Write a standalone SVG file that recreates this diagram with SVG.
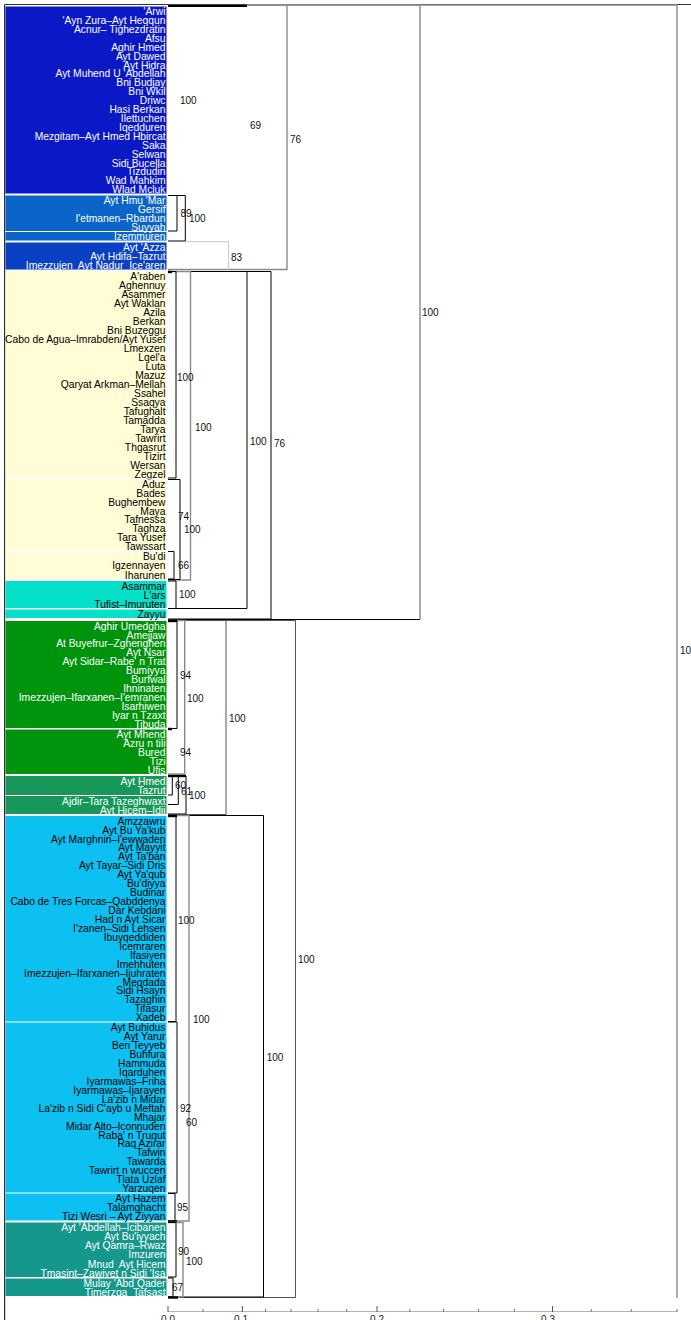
<svg xmlns="http://www.w3.org/2000/svg" width="691" height="1320" viewBox="0 0 691 1320">
<style>
text{font-family:"Liberation Sans",Arial,sans-serif}
.w{font-size:10.3px;fill:#fff;text-anchor:end;white-space:pre}
.b{font-size:10.3px;fill:#000;text-anchor:end;white-space:pre}
.n{font-size:10px;fill:#111}
.ax{font-size:10px;fill:#222;text-anchor:middle}
.k{fill:none;stroke:#000;stroke-width:1}
.g{fill:none;stroke:#8a8a8a;stroke-width:1.4}
.lg{fill:none;stroke:#cfcfcf;stroke-width:1.2}
.dk{fill:none;stroke:#555;stroke-width:1}
.thick{stroke:#000;stroke-width:2.4}
</style>
<rect width="691" height="1320" fill="#fff"/>
<!-- frame -->
<line x1="4.7" y1="4.5" x2="4.7" y2="1320" stroke="#000" stroke-width="1"/>
<line x1="4.7" y1="4.5" x2="691" y2="4.5" stroke="#333" stroke-width="1"/>

<g id="blue1">
<rect x="5.5" y="6.5" width="161" height="187" fill="#0b18c6"/>
<text class="w" x="165.5" y="15.15">'Arwi</text>
<text class="w" x="165.5" y="24.06">'Ayn Zura–Ayt Heqqun</text>
<text class="w" x="165.5" y="32.96">Acnur– Tighezdratin</text>
<text class="w" x="165.5" y="41.87">Afsu</text>
<text class="w" x="165.5" y="50.77">Aghir Hmed</text>
<text class="w" x="165.5" y="59.68">Ayt Dawed</text>
<text class="w" x="165.5" y="68.58">Ayt Hidra</text>
<text class="w" x="165.5" y="77.49">Ayt Muhend U 'Abdellah</text>
<text class="w" x="165.5" y="86.39">Bni Budjay</text>
<text class="w" x="165.5" y="95.3">Bni Wkil</text>
<text class="w" x="165.5" y="104.2">Driwc</text>
<text class="w" x="165.5" y="113.11">Hasi Berkan</text>
<text class="w" x="165.5" y="122.01">Ilettuchen</text>
<text class="w" x="165.5" y="130.92">Iqedduren</text>
<text class="w" x="165.5" y="139.82">Mezgitam–Ayt Hmed Hbircat</text>
<text class="w" x="165.5" y="148.73">Saka</text>
<text class="w" x="165.5" y="157.63">Selwan</text>
<text class="w" x="165.5" y="166.54">Sidi Bucella</text>
<text class="w" x="165.5" y="175.44">Tizdudin</text>
<text class="w" x="165.5" y="184.35">Wad Mahkim</text>
<text class="w" x="165.5" y="193.25">Wlad Mcluk</text>
</g>
<g id="blue2">
<rect x="5.5" y="195.5" width="161" height="35.5" fill="#0b64c8"/>
<rect x="5.5" y="232" width="161" height="8.5" fill="#0b64c8"/>
<text class="w" x="165.5" y="204.14">Ayt Hmu 'Mar</text>
<text class="w" x="165.5" y="213.01">Gersif</text>
<text class="w" x="165.5" y="221.89">I'etmanen–Rbardun</text>
<text class="w" x="165.5" y="230.76">Suyyah</text>
<text class="w" x="165.5" y="240.45">Izemmuren</text>
</g>
<g id="blue3">
<rect x="5.5" y="242.5" width="161" height="27" fill="#0a40c4"/>
<text class="w" x="165.5" y="251.2">Ayt 'Azza</text>
<text class="w" x="165.5" y="260.2">Ayt Hdifa–Tazrut</text>
<text class="w" x="165.5" y="269.2">Imezzujen  Ayt Nadur  Ice'aren</text>
</g>
<g id="yellow1">
<rect x="5.5" y="271.5" width="161" height="206.5" fill="#fffcd6"/>
<text class="b" x="165.5" y="280.19">A'raben</text>
<text class="b" x="165.5" y="289.17">Aghennuy</text>
<text class="b" x="165.5" y="298.15">Asammer</text>
<text class="b" x="165.5" y="307.12">Ayt Waklan</text>
<text class="b" x="165.5" y="316.1">Azila</text>
<text class="b" x="165.5" y="325.08">Berkan</text>
<text class="b" x="165.5" y="334.06">Bni Buzeggu</text>
<text class="b" x="165.5" y="343.04">Cabo de Agua–Imrabden/Ayt Yusef</text>
<text class="b" x="165.5" y="352.01">Lmexzen</text>
<text class="b" x="165.5" y="360.99">Lqel'a</text>
<text class="b" x="165.5" y="369.97">Luta</text>
<text class="b" x="165.5" y="378.95">Mazuz</text>
<text class="b" x="165.5" y="387.93">Qaryat Arkman–Mellah</text>
<text class="b" x="165.5" y="396.9">Ssahel</text>
<text class="b" x="165.5" y="405.88">Ssaqya</text>
<text class="b" x="165.5" y="414.86">Tafughalt</text>
<text class="b" x="165.5" y="423.84">Tamadda</text>
<text class="b" x="165.5" y="432.82">Tarya</text>
<text class="b" x="165.5" y="441.79">Tawrirt</text>
<text class="b" x="165.5" y="450.77">Thgasrut</text>
<text class="b" x="165.5" y="459.75">Tizirt</text>
<text class="b" x="165.5" y="468.73">Wersan</text>
<text class="b" x="165.5" y="477.71">Zegzel</text>
</g>
<g id="yellow2">
<rect x="5.5" y="479.5" width="161" height="70.5" fill="#fffcd6"/>
<text class="b" x="165.5" y="488.11">Aduz</text>
<text class="b" x="165.5" y="496.92">Bades</text>
<text class="b" x="165.5" y="505.73">Bughembew</text>
<text class="b" x="165.5" y="514.54">Maya</text>
<text class="b" x="165.5" y="523.36">Tafnessa</text>
<text class="b" x="165.5" y="532.17">Taghza</text>
<text class="b" x="165.5" y="540.98">Tara Yusef</text>
<text class="b" x="165.5" y="549.79">Tawssart</text>
</g>
<g id="yellow3">
<rect x="5.5" y="551.5" width="161" height="27.5" fill="#fffcd6"/>
<text class="b" x="165.5" y="560.28">Bu'di</text>
<text class="b" x="165.5" y="569.45">Igzennayen</text>
<text class="b" x="165.5" y="578.62">Iharunen</text>
</g>
<g id="cyan1">
<rect x="5.5" y="581" width="161" height="27" fill="#05e0c8"/>
<text class="b" x="165.5" y="589.7">Asammar</text>
<text class="b" x="165.5" y="598.7">L'ars</text>
<text class="b" x="165.5" y="607.7">Tufist–Imuruten</text>
</g>
<g id="cyan2">
<rect x="5.5" y="609.5" width="161" height="8.5" fill="#05e0c8"/>
<text class="b" x="165.5" y="617.95">Zayyu</text>
</g>
<g id="green1">
<rect x="5.5" y="621" width="161" height="107" fill="#00930c"/>
<text class="w" x="165.5" y="629.66">Aghir Umedgha</text>
<text class="w" x="165.5" y="638.57">Amejjaw</text>
<text class="w" x="165.5" y="647.49">At Buyefrur–Zghenghen</text>
<text class="w" x="165.5" y="656.41">Ayt Nsar</text>
<text class="w" x="165.5" y="665.32">Ayt Sidar–Rabe' n Trat</text>
<text class="w" x="165.5" y="674.24">Bumiyya</text>
<text class="w" x="165.5" y="683.16">Burfwal</text>
<text class="w" x="165.5" y="692.07">Ihninaten</text>
<text class="w" x="165.5" y="700.99">Imezzujen–Ifarxanen–I'emranen</text>
<text class="w" x="165.5" y="709.91">Isarhiwen</text>
<text class="w" x="165.5" y="718.82">Iyar n Tzaxt</text>
<text class="w" x="165.5" y="727.74">Tibuda</text>
</g>
<g id="green2">
<rect x="5.5" y="729.5" width="161" height="44.5" fill="#00930c"/>
<text class="w" x="165.5" y="738.15">Ayt Mhend</text>
<text class="w" x="165.5" y="747.05">Azru n tili</text>
<text class="w" x="165.5" y="755.95">Bured</text>
<text class="w" x="165.5" y="764.85">Tizi</text>
<text class="w" x="165.5" y="773.75">Ufis</text>
</g>
<g id="tealgreen">
<rect x="5.5" y="776" width="161" height="19" fill="#17985a"/>
<rect x="5.5" y="796" width="161" height="18" fill="#17985a"/>
<text class="w" x="165.5" y="784.95">Ayt Hmed</text>
<text class="w" x="165.5" y="794.45">Tazrut</text>
<text class="w" x="165.5" y="805.2">Ajdir–Tara Tazeghwaxt</text>
<text class="w" x="165.5" y="814.2">Ayt Hicem–Idij</text>
</g>
<g id="lightblue1">
<rect x="5.5" y="816" width="161" height="205.5" fill="#0cc0f2"/>
<text class="b" x="165.5" y="824.67">Amzzawru</text>
<text class="b" x="165.5" y="833.6">Ayt Bu Ya'kub</text>
<text class="b" x="165.5" y="842.54">Ayt Marghnin–I'ewwaden</text>
<text class="b" x="165.5" y="851.47">Ayt Mayyit</text>
<text class="b" x="165.5" y="860.41">Ayt Ta'ban</text>
<text class="b" x="165.5" y="869.34">Ayt Tayar–Sidi Dris</text>
<text class="b" x="165.5" y="878.28">Ayt Ya'qub</text>
<text class="b" x="165.5" y="887.21">Bu'diyya</text>
<text class="b" x="165.5" y="896.15">Budinar</text>
<text class="b" x="165.5" y="905.08">Cabo de Tres Forcas–Qabddenya</text>
<text class="b" x="165.5" y="914.02">Dar Kebdani</text>
<text class="b" x="165.5" y="922.95">Had n Ayt Sicar</text>
<text class="b" x="165.5" y="931.89">I'zanen–Sidi Lehsen</text>
<text class="b" x="165.5" y="940.82">Ibuyqeddiden</text>
<text class="b" x="165.5" y="949.76">Icemraren</text>
<text class="b" x="165.5" y="958.69">Ifasiyen</text>
<text class="b" x="165.5" y="967.63">Imehhuten</text>
<text class="b" x="165.5" y="976.56">Imezzujen–Ifarxanen–Ijuhraten</text>
<text class="b" x="165.5" y="985.5">Meqdada</text>
<text class="b" x="165.5" y="994.43">Sidi Hsayn</text>
<text class="b" x="165.5" y="1003.37">Tazaghin</text>
<text class="b" x="165.5" y="1012.3">Tifasur</text>
<text class="b" x="165.5" y="1021.24">Xadeb</text>
</g>
<g id="lightblue2">
<rect x="5.5" y="1022.5" width="161" height="170" fill="#0cc0f2"/>
<text class="b" x="165.5" y="1031.17">Ayt Buhidus</text>
<text class="b" x="165.5" y="1040.12">Ayt Yarur</text>
<text class="b" x="165.5" y="1049.07">Ben Teyyeb</text>
<text class="b" x="165.5" y="1058.02">Buhfura</text>
<text class="b" x="165.5" y="1066.96">Hammuda</text>
<text class="b" x="165.5" y="1075.91">Iqarduhen</text>
<text class="b" x="165.5" y="1084.86">Iyarmawas–Friha</text>
<text class="b" x="165.5" y="1093.8">Iyarmawas–Ijarayen</text>
<text class="b" x="165.5" y="1102.75">La'zib n Midar</text>
<text class="b" x="165.5" y="1111.7">La'zib n Sidi C'ayb u Meftah</text>
<text class="b" x="165.5" y="1120.64">Mhajar</text>
<text class="b" x="165.5" y="1129.59">Midar Alto–Iconnuden</text>
<text class="b" x="165.5" y="1138.54">Raba' n Truqut</text>
<text class="b" x="165.5" y="1147.48">Raq Azirar</text>
<text class="b" x="165.5" y="1156.43">Tafwin</text>
<text class="b" x="165.5" y="1165.38">Tawarda</text>
<text class="b" x="165.5" y="1174.32">Tawrirt n wuccen</text>
<text class="b" x="165.5" y="1183.27">Tlata Uzlaf</text>
<text class="b" x="165.5" y="1192.22">Yarzuqen</text>
</g>
<g id="lightblue3">
<rect x="5.5" y="1193.5" width="161" height="27" fill="#0cc0f2"/>
<text class="b" x="165.5" y="1202.2">Ayt Hazem</text>
<text class="b" x="165.5" y="1211.2">Talamghacht</text>
<text class="b" x="165.5" y="1220.2">Tizi Wesri – Ayt Ziyyan</text>
</g>
<g id="teal1">
<rect x="5.5" y="1222.5" width="161" height="54.5" fill="#16978b"/>
<text class="w" x="165.5" y="1231.24">Ayt 'Abdellah–Icibanen</text>
<text class="w" x="165.5" y="1240.33">Ayt Bu'iyyach</text>
<text class="w" x="165.5" y="1249.41">Ayt Qamra–Rwaz</text>
<text class="w" x="165.5" y="1258.49">Imzuren</text>
<text class="w" x="165.5" y="1267.58">Mnud  Ayt Hicem</text>
<text class="w" x="165.5" y="1276.66">Tmasint–Zawiyet n Sidi 'Isa</text>
</g>
<g id="teal2">
<rect x="5.5" y="1278.5" width="161" height="17.5" fill="#16978b"/>
<text class="w" x="165.5" y="1287.08">Mulay 'Abd Qader</text>
<text class="w" x="165.5" y="1295.83">Timerzga  Tafsast</text>
</g>

<g id="connectors">
<!-- upper half -->
<path class="g" d="M168,5 H677 V1298"/>
<path class="g" d="M168,5 H420 V619"/>
<path class="k" d="M168,619.5 H420"/>
<path class="g" d="M168,5 H287 V269.5 H168"/>
<line class="thick" x1="168" y1="5.8" x2="247" y2="5.8"/>
<path class="k" d="M168,195.5 H177 V231 H168"/>
<path class="k" d="M168,195.5 H185.3 V241 H168"/>
<path class="lg" d="M185.3,241.7 H228.5 V269.5"/>
<!-- yellow / cyan -->
<path class="k" d="M168,271.5 H271 V619 H168"/>
<path class="k" d="M168,271.5 H247 V608.5 H168"/>
<path class="g" d="M168,271.5 H190.5 V580 H168"/>
<path class="k" d="M168,271.5 H176 V478 H168"/>
<path class="k" d="M168,479.5 H180 V579.5 H168"/>
<path class="k" d="M168,551.5 H174 V579 H168"/>
<path class="k" d="M168,581 H176 V608.5 H168"/>
<line class="thick" x1="168" y1="272" x2="172" y2="272"/>
<!-- green / lightblue / teal -->
<path class="dk" d="M168,620.5 H295.5 V1297.5 H168"/>
<path class="dk" d="M168,620.5 H226 V814.5 H168"/>
<path class="g" d="M168,620.5 H184.7 V774 H168"/>
<path class="k" d="M168,620.5 H177 V728.5 H168"/>
<line class="thick" x1="168" y1="621" x2="177" y2="621"/>
<line class="thick" x1="168" y1="729" x2="172" y2="729"/>
<path class="k" d="M168,776 H172.3 V795 H168"/>
<path class="k" d="M168,776 H178.3 V804.5 H168"/>
<path class="k" d="M168,776 H186 V814 H168"/>
<line class="thick" x1="168" y1="776" x2="186" y2="776"/>
<path class="k" d="M168,815.5 H263.5 V1297 H168"/>
<path class="g" d="M168,815.5 H189 V1221 H168"/>
<path class="k" d="M168,815.5 H176 V1021.5 H168"/>
<line class="thick" x1="168" y1="816" x2="177" y2="816"/>
<path class="k" d="M168,1022 H177 V1193 H168"/>
<path class="k" d="M168,1193.5 H175 V1221 H168"/>
<line class="thick" x1="168" y1="1221.5" x2="177" y2="1221.5"/>
<path class="g" d="M168,1222.5 H183 V1297 H168"/>
<path class="k" d="M168,1222.5 H176 V1277 H168"/>
<path class="k" d="M168,1278 H173 V1297 H168"/>
<line class="thick" x1="168" y1="1297.5" x2="178" y2="1297.5"/>
</g>

<g id="bootstrap-values">
<text class="n" x="180" y="103.6">100</text>
<text class="n" x="250" y="128.6">69</text>
<text class="n" x="290" y="142.6">76</text>
<text class="n" x="180.5" y="216.6">89</text>
<text class="n" x="189" y="221.6">100</text>
<text class="n" x="231" y="260.6">83</text>
<text class="n" x="422" y="315.6">100</text>
<text class="n" x="177" y="380.6">100</text>
<text class="n" x="195" y="430.6">100</text>
<text class="n" x="250" y="444.6">100</text>
<text class="n" x="274" y="446.6">76</text>
<text class="n" x="178" y="519.6">74</text>
<text class="n" x="184" y="532.6">100</text>
<text class="n" x="178" y="568.6">66</text>
<text class="n" x="179" y="597.6">100</text>
<text class="n" x="180" y="678.6">94</text>
<text class="n" x="187" y="701.6">100</text>
<text class="n" x="229" y="721.6">100</text>
<text class="n" x="180" y="755.6">94</text>
<text class="n" x="175" y="788.6">60</text>
<text class="n" x="181" y="794.6">61</text>
<text class="n" x="189" y="798.6">100</text>
<text class="n" x="178" y="923.6">100</text>
<text class="n" x="298" y="962.6">100</text>
<text class="n" x="193" y="1022.6">100</text>
<text class="n" x="266.7" y="1060.6">100</text>
<text class="n" x="180" y="1111.6">92</text>
<text class="n" x="186" y="1125.6">60</text>
<text class="n" x="177" y="1210.6">95</text>
<text class="n" x="178" y="1254.6">90</text>
<text class="n" x="186" y="1264.6">100</text>
<text class="n" x="172" y="1290.6">67</text>
<text class="n" x="680" y="653.6">100</text>
</g>

<g id="axis">
<line x1="168" y1="1311.5" x2="677" y2="1311.5" stroke="#b5b5b5" stroke-width="1.2"/>
<g stroke="#555" stroke-width="1">
<line x1="168" y1="1306" x2="168" y2="1312"/>
<line x1="242.4" y1="1306" x2="242.4" y2="1312"/>
<line x1="377" y1="1306" x2="377" y2="1312"/>
<line x1="552.5" y1="1306" x2="552.5" y2="1312"/>
</g>
<g stroke="#777" stroke-width="1">
<line x1="203" y1="1309" x2="203" y2="1312"/>
<line x1="265.6" y1="1309" x2="265.6" y2="1312"/>
<line x1="291" y1="1309" x2="291" y2="1312"/>
<line x1="318" y1="1309" x2="318" y2="1312"/>
<line x1="346.7" y1="1309" x2="346.7" y2="1312"/>
<line x1="409.8" y1="1309" x2="409.8" y2="1312"/>
<line x1="443.5" y1="1309" x2="443.5" y2="1312"/>
<line x1="478.6" y1="1309" x2="478.6" y2="1312"/>
<line x1="514.4" y1="1309" x2="514.4" y2="1312"/>
<line x1="591.3" y1="1309" x2="591.3" y2="1312"/>
<line x1="631.3" y1="1309" x2="631.3" y2="1312"/>
<line x1="677" y1="1309" x2="677" y2="1312"/>
</g>
<text class="ax" x="168" y="1323">0.0</text>
<text class="ax" x="241" y="1323">0.1</text>
<text class="ax" x="377" y="1323">0.2</text>
<text class="ax" x="548" y="1323">0.3</text>
</g>
</svg>
